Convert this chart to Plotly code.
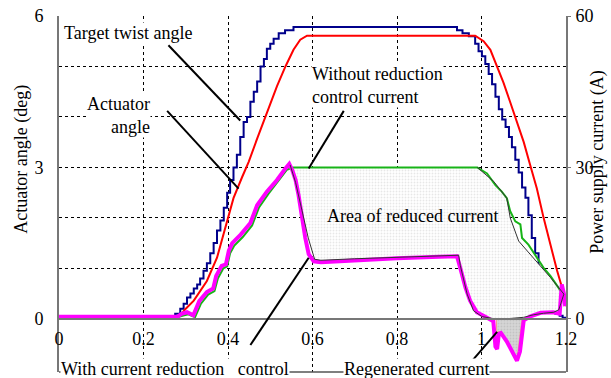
import plotly.graph_objects as go

# ---------------- data ----------------
# Target twist angle (deg), staircase
target_x = [0.0, 0.15, 0.275, 0.287, 0.295, 0.303, 0.311, 0.319, 0.327, 0.334, 0.342, 0.35, 0.358, 0.366,
            0.374, 0.382, 0.39, 0.398, 0.405, 0.413, 0.421, 0.429, 0.437, 0.445, 0.453, 0.461, 0.469,
            0.477, 0.485, 0.492, 0.50, 0.508, 0.52, 0.535, 0.555, 0.942, 0.955, 0.97, 0.985, 0.993,
            1.001, 1.009, 1.017, 1.025, 1.033, 1.041, 1.049, 1.057, 1.065, 1.072, 1.08, 1.088, 1.096,
            1.104, 1.111, 1.119, 1.127, 1.135, 1.143, 1.151, 1.159, 1.167, 1.175, 1.185, 1.192, 1.2]
target_y = [0.02, 0.04, 0.1, 0.2, 0.3, 0.42, 0.5, 0.6, 0.68, 0.8, 0.95, 1.1, 1.3, 1.5,
            1.75, 1.95, 2.2, 2.5, 2.75, 3.0, 3.25, 3.6, 3.9, 4.0, 4.3, 4.5, 4.7,
            5.0, 5.15, 5.35, 5.45, 5.55, 5.66, 5.72, 5.78, 5.72, 5.66, 5.6, 5.45, 5.3,
            5.2, 5.05, 4.85, 4.65, 4.4, 4.15, 3.95, 3.8, 3.6, 3.4, 3.15, 2.9, 2.6,
            2.4, 2.05, 1.6, 1.3, 1.0, 0.8, 0.5, 0.3, 0.15, 0.1, 0.06, 0.02, 0.02]

# Actuator angle (deg)
actuator_x = [0.0, 0.28, 0.287, 0.30, 0.319, 0.335, 0.35, 0.374, 0.394, 0.413, 0.433, 0.449, 0.469,
              0.492, 0.516, 0.536, 0.555, 0.571, 0.587, 0.985, 1.005, 1.021, 1.037, 1.052, 1.068,
              1.084, 1.10, 1.113, 1.131, 1.147, 1.163, 1.179, 1.195, 1.2]
actuator_y = [0.03, 0.03, 0.07, 0.2, 0.36, 0.55, 0.75, 1.21, 1.80, 2.39, 2.8, 3.11, 3.57,
              4.09, 4.61, 5.0, 5.33, 5.53, 5.61, 5.61, 5.50, 5.33, 5.0, 4.68, 4.29,
              3.89, 3.50, 3.11, 2.58, 2.0, 1.47, 0.95, 0.49, 0.25]

# Current without reduction control (A)
without_x = [0.0, 0.28, 0.292, 0.306, 0.322, 0.336, 0.353, 0.368, 0.376, 0.389, 0.398, 0.405, 0.415,
             0.435, 0.457, 0.473, 0.496, 0.519, 0.539, 0.555, 0.99, 1.013, 1.033, 1.048, 1.06,
             1.068, 1.08, 1.092, 1.096, 1.111, 1.131, 1.147, 1.163, 1.183, 1.195, 1.2]
without_y = [0.3, 0.3, 0.6, 0.9, 0.3, 3.0, 4.8, 5.5, 8.0, 10.0, 10.4, 13.0, 14.5,
             16.2, 18.5, 22.0, 24.8, 27.2, 29.5, 30.0, 30.0, 28.8, 26.5, 25.2, 23.9,
             21.3, 19.3, 18.7, 16.0, 14.7, 12.1, 10.1, 8.5, 5.9, 4.6, 3.5]

# Current with reduction control (A)
with_x = [0.0, 0.28, 0.29, 0.303, 0.318, 0.332, 0.35, 0.365, 0.372, 0.385, 0.395, 0.402, 0.41, 0.43,
          0.453, 0.469, 0.492, 0.516, 0.536, 0.545, 0.552, 0.56, 0.567, 0.575, 0.583, 0.591, 0.603,
          0.62, 0.70, 0.80, 0.90, 0.942, 0.95, 0.962, 0.973, 0.989, 1.009, 1.028, 1.033, 1.037,
          1.041, 1.046, 1.06, 1.072, 1.084, 1.091, 1.096, 1.10, 1.116, 1.14, 1.17, 1.185, 1.19,
          1.195, 1.198]
with_y = [0.4, 0.4, 1.0, 1.3, 0.7, 3.5, 5.3, 6.0, 8.5, 10.5, 10.8, 13.5, 15.0, 16.7,
          19.0, 22.5, 25.2, 27.5, 29.8, 30.7, 29.5, 27.5, 24.5, 20.0, 16.0, 12.8, 11.4,
          11.2, 11.6, 12.0, 12.3, 12.4, 10.0, 6.2, 3.6, 1.3, 0.4, -0.5, -5.5, -6.0,
          -3.0, -2.8, -4.5, -6.5, -8.3, -6.5, -2.5, -0.3, 0.5, 1.2, 1.3, 1.0, 6.8,
          5.0, 2.5]

# Envelope of the reduced current (thin black line) (A)
reduced_x = [0.547, 0.56, 0.575, 0.59, 0.605, 0.62, 0.70, 0.80, 0.90, 0.946, 0.950, 0.958, 0.966,
             0.981, 1.001, 1.03, 1.06, 1.10, 1.123, 1.147, 1.171, 1.183, 1.188, 1.195]
reduced_y = [30.5, 27.0, 21.5, 16.0, 11.8, 11.6, 11.9, 12.2, 12.5, 12.6, 10.5, 7.5, 4.9,
             1.6, 0.45, 0.0, 0.0, 0.3, 0.8, 1.1, 1.3, 1.8, 3.3, 4.9]

# Right edge of the reduced-current area (thin black line) (A)
edge_x = [0.99, 1.029, 1.06, 1.068, 1.088, 1.123, 1.163, 1.195]
edge_y = [30.0, 27.2, 23.9, 20.0, 15.4, 12.1, 8.2, 4.9]

# Regenerated current region (A)
regen_x = [1.035, 1.036, 1.045, 1.084, 1.096]
regen_y = [0.0, -2.6, -2.5, -8.0, 0.0]

x_ticks = [0, 0.2, 0.4, 0.6, 0.8, 1.0, 1.2]
x_tick_text = ["0", "0.2", "0.4", "0.6", "0.8", "1", "1.2"]
y_grid = [0, 1, 2, 3, 4, 5, 6]
y_tick_text = ["0", "", "", "3", "", "", "6"]
y2_ticks = [0, 30, 60]

# leader lines (x0, y0, x1, y1) in angle units
leaders = [
    (0.259, 5.42, 0.429, 3.93),
    (0.256, 4.12, 0.425, 2.58),
    (0.674, 4.12, 0.591, 2.98),
    (0.453, -0.52, 0.591, 1.21),
    (0.973, -0.88, 1.037, -0.26),
]

Y_MIN, Y_MAX = -1.054, 6.0
FONT = "Liberation Serif, Times New Roman, serif"

fig = go.Figure()

# area of reduced current (dotted): plateau of the unreduced current, its right edge,
# then back along the reduced-current envelope
area_x = [reduced_x[0], without_x[19], edge_x[0]] + edge_x + reduced_x[::-1]
area_y = [reduced_y[0], without_y[19], edge_y[0]] + edge_y + reduced_y[::-1]
fig.add_trace(go.Scatter(x=area_x, y=area_y, yaxis="y2", mode="lines", fill="toself",
                         line=dict(width=0, color="rgba(0,0,0,0)"),
                         fillcolor="white",
                         fillpattern=dict(shape=".", bgcolor="white", fgcolor="#cfcfcf",
                                          size=3, solidity=0.3),
                         hoverinfo="skip", showlegend=False))
# regenerated current (grey)
fig.add_trace(go.Scatter(x=regen_x + [regen_x[0]], y=regen_y + [regen_y[0]], yaxis="y2",
                         mode="lines", fill="toself",
                         line=dict(width=1, color="#f19a8a"),
                         fillcolor="#d4d4d4",
                         fillpattern=dict(shape=".", bgcolor="#d6d6d6", fgcolor="#b0b0b0",
                                          size=3, solidity=0.3),
                         hoverinfo="skip", showlegend=False))

fig.add_trace(go.Scatter(x=without_x, y=without_y, yaxis="y2", mode="lines",
                         line=dict(color="#18b418", width=2), showlegend=False))
fig.add_trace(go.Scatter(x=with_x, y=with_y, yaxis="y2", mode="lines",
                         line=dict(color="#ff00ff", width=4), showlegend=False))
fig.add_trace(go.Scatter(x=reduced_x, y=reduced_y, yaxis="y2", mode="lines",
                         line=dict(color="#333333", width=1), showlegend=False))
fig.add_trace(go.Scatter(x=edge_x, y=edge_y, yaxis="y2", mode="lines",
                         line=dict(color="#333333", width=1), showlegend=False))
fig.add_trace(go.Scatter(x=target_x, y=target_y, mode="lines", line_shape="hv",
                         line=dict(color="#00008b", width=2), showlegend=False))
fig.add_trace(go.Scatter(x=actuator_x, y=actuator_y, mode="lines",
                         line=dict(color="#ff0000", width=2), showlegend=False))

shapes = []
for (x0, y0, x1, y1) in leaders:
    shapes.append(dict(type="line", xref="x", yref="y", x0=x0, y0=y0, x1=x1, y1=y1,
                       line=dict(color="black", width=2)))
shapes.append(dict(type="line", xref="paper", yref="paper", x0=0, x1=1, y0=0, y1=0,
                   line=dict(color="#555555", width=1.5)))

ann_font = dict(family=FONT, size=18, color="black")
annotations = [
    dict(x=0.01, y=5.66, xref="x", yref="y", text="Target twist angle", showarrow=False,
         xanchor="left", yanchor="middle", font=ann_font, bgcolor="white", borderpad=0),
    dict(x=0.217, y=4.02, xref="x", yref="y", text="Actuator<br>angle", showarrow=False,
         xanchor="right", yanchor="middle", align="right", font=ann_font, bgcolor="white", borderpad=0),
    dict(x=0.597, y=4.63, xref="x", yref="y", text="Without reduction<br>control current",
         showarrow=False, xanchor="left", yanchor="middle", align="left", font=ann_font,
         bgcolor="white", borderpad=0),
    dict(x=0.836, y=2.03, xref="x", yref="y", text="Area of reduced current", showarrow=False,
         xanchor="center", yanchor="middle", font=ann_font),
    dict(x=0.002, y=-1.0, xref="x", yref="y", text="With current reduction\u00a0\u00a0 control",
         showarrow=False, xanchor="left", yanchor="middle", font=ann_font, bgcolor="white",
         borderpad=0),
    dict(x=0.672, y=-1.0, xref="x", yref="y", text="Regenerated current", showarrow=False,
         xanchor="left", yanchor="middle", font=ann_font, bgcolor="white", borderpad=0),
    dict(x=-0.073, y=3.17, xref="paper", yref="y", text="Actuator angle (deg)", showarrow=False,
         textangle=-90, xanchor="center", yanchor="middle", font=ann_font),
    dict(x=1.063, y=3.11, xref="paper", yref="y", text="Power supply current (A)", showarrow=False,
         textangle=-90, xanchor="center", yanchor="middle", font=ann_font),
]

fig.update_layout(
    width=611, height=378,
    margin=dict(l=59, r=45, t=13, b=6),
    paper_bgcolor="white", plot_bgcolor="white",
    font=dict(family=FONT, size=18, color="black"),
    xaxis=dict(range=[0, 1.2], anchor="free", position=(0 - Y_MIN) / (Y_MAX - Y_MIN),
               tickvals=x_ticks, ticktext=x_tick_text, ticks="", showline=True,
               linecolor="#777777", linewidth=2, showgrid=True, gridcolor="black",
               gridwidth=1, griddash="3px,3px", zeroline=False, ticklabelstandoff=4),
    yaxis=dict(range=[Y_MIN, Y_MAX], tickvals=y_grid, ticktext=y_tick_text, ticks="",
               showline=True, linecolor="#777777", linewidth=2, showgrid=True,
               gridcolor="black", gridwidth=1, griddash="3px,3px", zeroline=False,
               ticklabelstandoff=10),
    yaxis2=dict(range=[Y_MIN * 10, Y_MAX * 10], overlaying="y", side="right", anchor="x",
                tickvals=y2_ticks, ticks="outside", ticklen=3, tickcolor="#777777",
                showline=True, linecolor="#777777", linewidth=2, showgrid=False,
                zeroline=False, ticklabelstandoff=1),
    shapes=shapes,
    annotations=annotations,
    showlegend=False,
)

fig.write_html("out.html")
